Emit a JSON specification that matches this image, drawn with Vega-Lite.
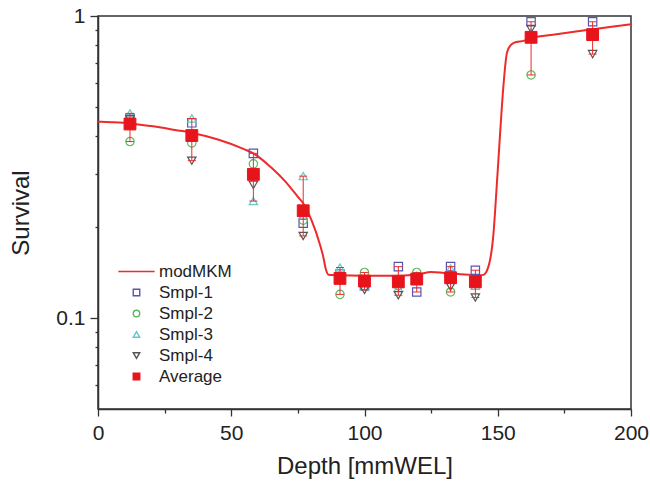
{
  "$schema": "https://vega.github.io/schema/vega-lite/v6.json",
  "width": 533,
  "height": 393,
  "autosize": {"type": "none"},
  "padding": {"left": 98, "top": 16, "right": 19, "bottom": 77},
  "background": "white",
  "config": {
    "font": "Liberation Sans",
    "view": {"stroke": "#333", "strokeWidth": 1.5},
    "axis": {"grid": false, "domainColor": "#333", "domainWidth": 1.5, "tickColor": "#333", "tickWidth": 1.3, "labelFont": "Liberation Sans", "labelFontSize": 21, "labelColor": "#222", "titleFont": "Liberation Sans", "titleFontSize": 24, "titleFontWeight": "normal", "titleColor": "#222"},
    "legend": {"orient": "none", "legendX": 30, "legendY": 247, "padding": 0, "symbolSize": 42, "symbolOpacity": 1, "symbolStrokeWidth": 1.4, "labelFont": "Liberation Sans", "labelFontSize": 17, "labelColor": "#222", "labelOffset": 14, "rowPadding": 3}
  },
  "datasets": {
    "curve": [
      {"depth": 0, "survival": 0.447},
      {"depth": 5, "survival": 0.445},
      {"depth": 12, "survival": 0.441},
      {"depth": 20, "survival": 0.432},
      {"depth": 30, "survival": 0.418},
      {"depth": 35, "survival": 0.411},
      {"depth": 45, "survival": 0.39},
      {"depth": 55, "survival": 0.362},
      {"depth": 58.3, "survival": 0.351},
      {"depth": 65, "survival": 0.315},
      {"depth": 70, "survival": 0.285},
      {"depth": 75, "survival": 0.252},
      {"depth": 77, "survival": 0.24},
      {"depth": 80, "survival": 0.212},
      {"depth": 83.3, "survival": 0.175},
      {"depth": 84.5, "survival": 0.16},
      {"depth": 85.5, "survival": 0.145},
      {"depth": 86.5, "survival": 0.139},
      {"depth": 90, "survival": 0.1385},
      {"depth": 100, "survival": 0.138},
      {"depth": 110, "survival": 0.138},
      {"depth": 120, "survival": 0.1395},
      {"depth": 125, "survival": 0.142},
      {"depth": 130, "survival": 0.141},
      {"depth": 135, "survival": 0.14},
      {"depth": 143, "survival": 0.1385},
      {"depth": 144.6, "survival": 0.139},
      {"depth": 146.5, "survival": 0.148},
      {"depth": 148.3, "survival": 0.186},
      {"depth": 149.6, "survival": 0.272},
      {"depth": 150.8, "survival": 0.398},
      {"depth": 152.1, "survival": 0.583},
      {"depth": 153.4, "survival": 0.752},
      {"depth": 154.6, "survival": 0.796},
      {"depth": 156, "survival": 0.815},
      {"depth": 160, "survival": 0.829},
      {"depth": 162.5, "survival": 0.845},
      {"depth": 170, "survival": 0.865},
      {"depth": 180, "survival": 0.89},
      {"depth": 185.8, "survival": 0.904},
      {"depth": 192, "survival": 0.92},
      {"depth": 200, "survival": 0.939}
    ],
    "points": [
      {"depth": 12, "survival": 0.459, "series": "Smpl-1"},
      {"depth": 12, "survival": 0.384, "series": "Smpl-2"},
      {"depth": 12, "survival": 0.476, "series": "Smpl-3"},
      {"depth": 12, "survival": 0.455, "series": "Smpl-4"},
      {"depth": 35.2, "survival": 0.443, "series": "Smpl-1"},
      {"depth": 35.2, "survival": 0.38, "series": "Smpl-2"},
      {"depth": 35.2, "survival": 0.458, "series": "Smpl-3"},
      {"depth": 35.2, "survival": 0.332, "series": "Smpl-4"},
      {"depth": 58.3, "survival": 0.351, "series": "Smpl-1"},
      {"depth": 58.3, "survival": 0.324, "series": "Smpl-2"},
      {"depth": 58.3, "survival": 0.244, "series": "Smpl-3"},
      {"depth": 58.3, "survival": 0.276, "series": "Smpl-4"},
      {"depth": 77, "survival": 0.206, "series": "Smpl-1"},
      {"depth": 77, "survival": 0.211, "series": "Smpl-2"},
      {"depth": 77, "survival": 0.295, "series": "Smpl-3"},
      {"depth": 77, "survival": 0.187, "series": "Smpl-4"},
      {"depth": 90.8, "survival": 0.14, "series": "Smpl-1"},
      {"depth": 90.8, "survival": 0.1198, "series": "Smpl-2"},
      {"depth": 90.8, "survival": 0.147, "series": "Smpl-3"},
      {"depth": 90.8, "survival": 0.133, "series": "Smpl-4"},
      {"depth": 100, "survival": 0.128, "series": "Smpl-1"},
      {"depth": 100, "survival": 0.1416, "series": "Smpl-2"},
      {"depth": 100, "survival": 0.127, "series": "Smpl-3"},
      {"depth": 100, "survival": 0.124, "series": "Smpl-4"},
      {"depth": 112.7, "survival": 0.148, "series": "Smpl-1"},
      {"depth": 112.7, "survival": 0.128, "series": "Smpl-2"},
      {"depth": 112.7, "survival": 0.126, "series": "Smpl-3"},
      {"depth": 112.7, "survival": 0.119, "series": "Smpl-4"},
      {"depth": 119.6, "survival": 0.122, "series": "Smpl-1"},
      {"depth": 119.6, "survival": 0.1416, "series": "Smpl-2"},
      {"depth": 119.6, "survival": 0.138, "series": "Smpl-3"},
      {"depth": 119.6, "survival": 0.136, "series": "Smpl-4"},
      {"depth": 132.3, "survival": 0.148, "series": "Smpl-1"},
      {"depth": 132.3, "survival": 0.122, "series": "Smpl-2"},
      {"depth": 132.3, "survival": 0.146, "series": "Smpl-3"},
      {"depth": 132.3, "survival": 0.127, "series": "Smpl-4"},
      {"depth": 141.6, "survival": 0.144, "series": "Smpl-1"},
      {"depth": 141.6, "survival": 0.13, "series": "Smpl-2"},
      {"depth": 141.6, "survival": 0.128, "series": "Smpl-3"},
      {"depth": 141.6, "survival": 0.117, "series": "Smpl-4"},
      {"depth": 162.5, "survival": 0.957, "series": "Smpl-1"},
      {"depth": 162.5, "survival": 0.638, "series": "Smpl-2"},
      {"depth": 162.5, "survival": 0.88, "series": "Smpl-3"},
      {"depth": 162.5, "survival": 0.905, "series": "Smpl-4"},
      {"depth": 185.6, "survival": 0.957, "series": "Smpl-1"},
      {"depth": 185.6, "survival": 0.88, "series": "Smpl-2"},
      {"depth": 185.6, "survival": 0.86, "series": "Smpl-3"},
      {"depth": 185.6, "survival": 0.748, "series": "Smpl-4"}
    ],
    "avg": [
      {"depth": 12, "survival": 0.439, "lo": 0.384, "hi": 0.476, "series": "Average"},
      {"depth": 35.2, "survival": 0.402, "lo": 0.332, "hi": 0.458, "series": "Average"},
      {"depth": 58.3, "survival": 0.299, "lo": 0.244, "hi": 0.351, "series": "Average"},
      {"depth": 77, "survival": 0.2266, "lo": 0.187, "hi": 0.295, "series": "Average"},
      {"depth": 90.8, "survival": 0.1353, "lo": 0.1198, "hi": 0.147, "series": "Average"},
      {"depth": 100, "survival": 0.1326, "lo": 0.124, "hi": 0.1416, "series": "Average"},
      {"depth": 112.7, "survival": 0.1318, "lo": 0.119, "hi": 0.148, "series": "Average"},
      {"depth": 119.6, "survival": 0.1346, "lo": 0.122, "hi": 0.1416, "series": "Average"},
      {"depth": 132.3, "survival": 0.136, "lo": 0.122, "hi": 0.148, "series": "Average"},
      {"depth": 141.6, "survival": 0.1318, "lo": 0.117, "hi": 0.144, "series": "Average"},
      {"depth": 162.5, "survival": 0.85, "lo": 0.638, "hi": 0.957, "series": "Average"},
      {"depth": 185.6, "survival": 0.868, "lo": 0.748, "hi": 0.957, "series": "Average"}
    ]
  },
  "layer": [
    {
      "data": {"name": "curve"},
      "mark": {"type": "line", "color": "#ee2a2a", "strokeWidth": 2, "interpolate": "monotone", "clip": true},
      "encoding": {
        "x": {"field": "depth", "type": "quantitative", "scale": {"domain": [0, 200], "nice": false},
          "axis": {"title": "Depth [mmWEL]", "values": [0, 25, 50, 75, 100, 125, 150, 175, 200], "labelExpr": "datum.value % 50 == 0 ? datum.label : ''", "tickSize": {"condition": {"test": "datum.value % 50 == 0", "value": 7}, "value": 4}, "labelPadding": 6, "titlePadding": 11, "labelFlush": false}},
        "y": {"field": "survival", "type": "quantitative", "scale": {"type": "log", "domain": [0.05, 1], "nice": false},
          "axis": {"title": "Survival", "values": [0.06, 0.07, 0.08, 0.09, 0.1, 0.2, 0.3, 0.4, 0.5, 0.6, 0.7, 0.8, 0.9, 1], "labelExpr": "datum.value == 1 ? '1' : (datum.value == 0.1 ? '0.1' : '')", "tickSize": {"condition": {"test": "datum.value == 1 || datum.value == 0.1", "value": 8}, "value": 3}, "labelPadding": 5, "titlePadding": 22, "labelFlush": false}}
      }
    },
    {
      "data": {"name": "points"},
      "mark": {"type": "point", "filled": false, "size": 70, "strokeWidth": 1.2, "opacity": 1},
      "encoding": {
        "x": {"field": "depth", "type": "quantitative"},
        "y": {"field": "survival", "type": "quantitative"},
        "shape": {"field": "series", "type": "nominal", "scale": {"domain": ["modMKM", "Smpl-1", "Smpl-2", "Smpl-3", "Smpl-4", "Average"], "range": ["M-5.6,0H5.6", "square", "circle", "triangle-up", "triangle-down", "square"]}, "legend": {"title": null}},
        "stroke": {"field": "series", "type": "nominal", "scale": {"domain": ["modMKM", "Smpl-1", "Smpl-2", "Smpl-3", "Smpl-4", "Average"], "range": ["#ee2a2a", "#5555b5", "#5cb85c", "#66c8c8", "#555555", "#e8141c"]}, "legend": {"title": null}},
        "fill": {"field": "series", "type": "nominal", "scale": {"domain": ["modMKM", "Smpl-1", "Smpl-2", "Smpl-3", "Smpl-4", "Average"], "range": ["transparent", "transparent", "transparent", "transparent", "transparent", "#e8141c"]}, "legend": {"title": null}}
      }
    },
    {
      "data": {"name": "avg"},
      "mark": {"type": "rule", "color": "#ee2a2a", "strokeWidth": 1},
      "encoding": {
        "x": {"field": "depth", "type": "quantitative"},
        "y": {"field": "lo", "type": "quantitative"},
        "y2": {"field": "hi"}
      }
    },
    {
      "data": {"name": "avg"},
      "mark": {"type": "tick", "orient": "horizontal", "color": "#ee2a2a", "size": 8, "thickness": 1, "opacity": 1},
      "encoding": {
        "x": {"field": "depth", "type": "quantitative"},
        "y": {"field": "lo", "type": "quantitative"}
      }
    },
    {
      "data": {"name": "avg"},
      "mark": {"type": "tick", "orient": "horizontal", "color": "#ee2a2a", "size": 8, "thickness": 1, "opacity": 1},
      "encoding": {
        "x": {"field": "depth", "type": "quantitative"},
        "y": {"field": "hi", "type": "quantitative"}
      }
    },
    {
      "data": {"name": "avg"},
      "mark": {"type": "point", "filled": true, "size": 140, "strokeWidth": 1, "opacity": 1},
      "encoding": {
        "x": {"field": "depth", "type": "quantitative"},
        "y": {"field": "survival", "type": "quantitative"},
        "shape": {"field": "series", "type": "nominal", "legend": {"title": null}},
        "stroke": {"field": "series", "type": "nominal", "legend": {"title": null}},
        "fill": {"field": "series", "type": "nominal", "legend": {"title": null}}
      }
    }
  ]
}
